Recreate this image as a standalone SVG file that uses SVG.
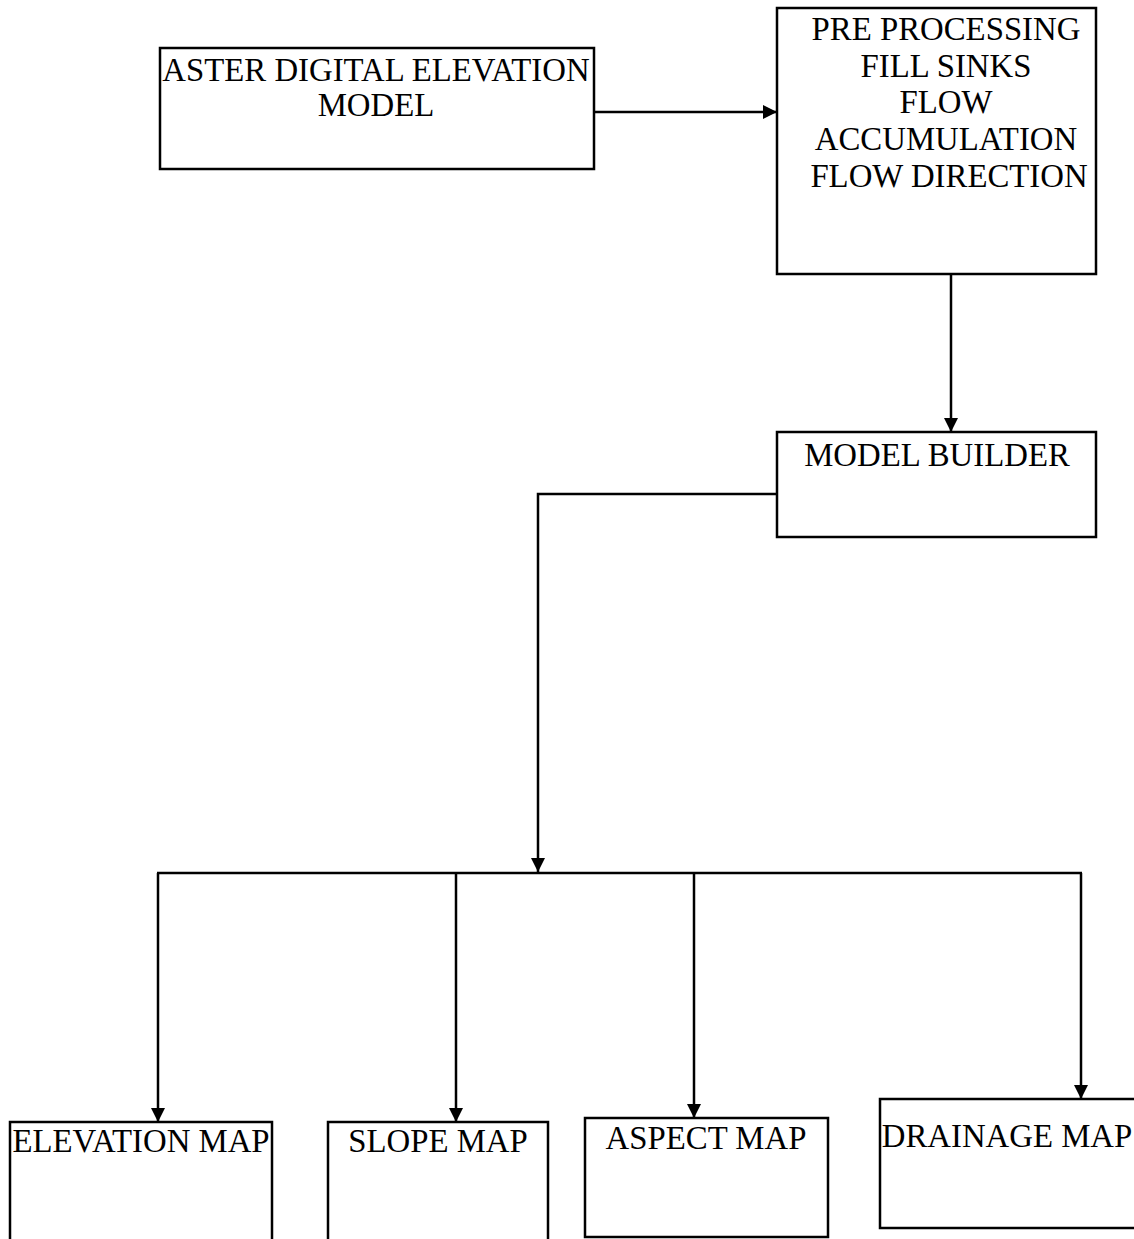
<svg xmlns="http://www.w3.org/2000/svg" width="1134" height="1239" viewBox="0 0 1134 1239">
<style>
.box{fill:#fff;stroke:#000;stroke-width:2.5}
.t{font-family:"Liberation Serif","Times New Roman",serif;font-size:32.8px;fill:#000}
.c{stroke:#000;stroke-width:2.5;fill:none}
</style>
<defs>
<marker id="ah" viewBox="0 0 14 14" refX="14" refY="7" markerWidth="14" markerHeight="14" markerUnits="userSpaceOnUse" orient="auto">
<path d="M0,0 L14,7 L0,14 Z" fill="#000"/>
</marker>
</defs>
<rect width="1134" height="1239" fill="#fff"/>
<g id="connectors">
<line class="c" x1="594" y1="112" x2="777" y2="112" marker-end="url(#ah)"/>
<line class="c" x1="951" y1="274" x2="951" y2="432" marker-end="url(#ah)"/>
<polyline class="c" points="777,494 538,494 538,872" marker-end="url(#ah)"/>
<line class="c" x1="157" y1="873" x2="1082" y2="873"/>
<line class="c" x1="158" y1="873" x2="158" y2="1122" marker-end="url(#ah)"/>
<line class="c" x1="456" y1="873" x2="456" y2="1122" marker-end="url(#ah)"/>
<line class="c" x1="694" y1="873" x2="694" y2="1118" marker-end="url(#ah)"/>
<line class="c" x1="1081" y1="873" x2="1081" y2="1099" marker-end="url(#ah)"/>
</g>
<g id="aster">
<rect class="box" x="160" y="48" width="434" height="121"/>
<text class="t" x="376" y="81" text-anchor="middle">ASTER DIGITAL ELEVATION</text>
<text class="t" x="376" y="116" text-anchor="middle">MODEL</text>
</g>
<g id="preprocessing">
<rect class="box" x="777" y="8" width="319" height="266"/>
<text class="t" x="946" y="40" text-anchor="middle">PRE PROCESSING</text>
<text class="t" x="946" y="77" text-anchor="middle">FILL SINKS</text>
<text class="t" x="946" y="113" text-anchor="middle">FLOW</text>
<text class="t" x="946" y="150" text-anchor="middle">ACCUMULATION</text>
<text class="t" x="949" y="187" text-anchor="middle">FLOW DIRECTION</text>
</g>
<g id="modelbuilder">
<rect class="box" x="777" y="432" width="319" height="105"/>
<text class="t" x="937" y="466" text-anchor="middle">MODEL BUILDER</text>
</g>
<g id="elevation">
<rect class="box" x="10" y="1122" width="262" height="130"/>
<text class="t" x="141" y="1152" text-anchor="middle">ELEVATION MAP</text>
</g>
<g id="slope">
<rect class="box" x="328" y="1122" width="220" height="130"/>
<text class="t" x="438" y="1152" text-anchor="middle">SLOPE MAP</text>
</g>
<g id="aspect">
<rect class="box" x="585" y="1118" width="243" height="119"/>
<text class="t" x="706" y="1149" text-anchor="middle">ASPECT MAP</text>
</g>
<g id="drainage">
<rect class="box" x="880" y="1099" width="256" height="129"/>
<text class="t" x="1007" y="1147" text-anchor="middle">DRAINAGE MAP</text>
</g>
</svg>
